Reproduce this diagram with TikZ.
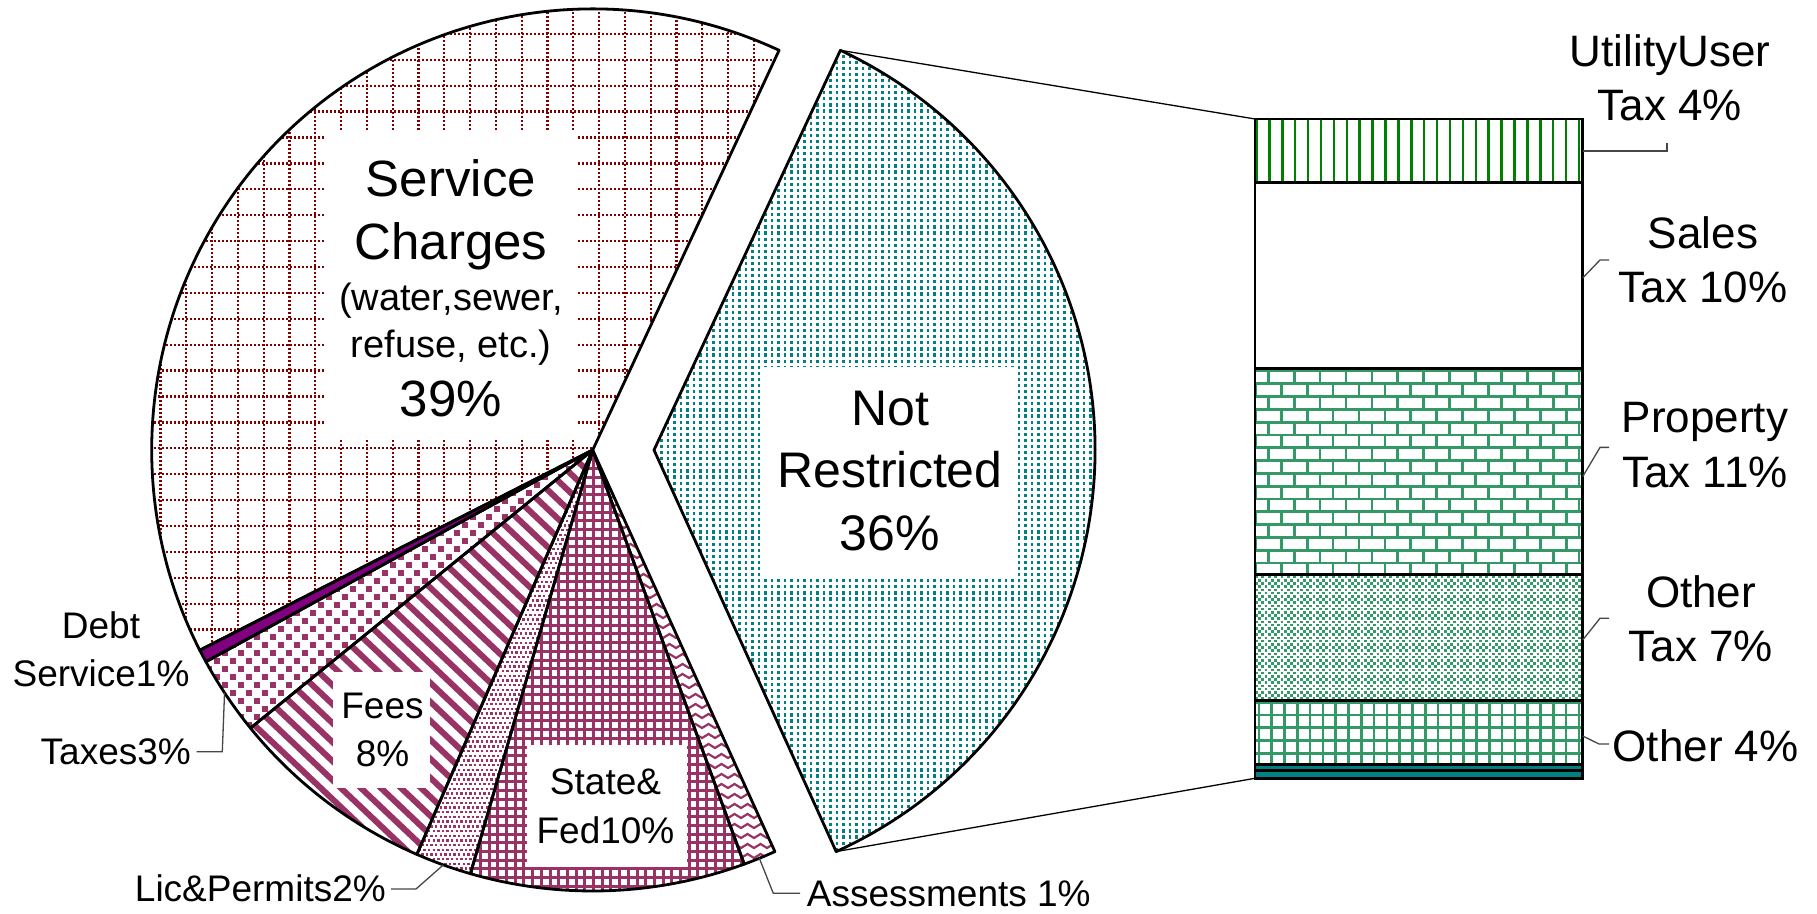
\documentclass[tikz,border=0pt]{standalone}
\usepackage{fontspec}
\setmainfont{Liberation Sans}
\usetikzlibrary{calc}
\definecolor{scred}{RGB}{128,0,0}
\definecolor{plum}{RGB}{153,51,102}
\definecolor{debtp}{RGB}{128,0,128}
\definecolor{tealc}{RGB}{0,128,128}
\definecolor{grn}{RGB}{0,128,0}
\definecolor{sea}{RGB}{51,153,102}
\definecolor{leadc}{RGB}{70,70,70}
\begin{document}
\begin{tikzpicture}[x=1pt,y=1pt,
  pieline/.style={draw=black,line width=2.8pt,line join=round},
  barline/.style={draw=black,line width=2.5pt},
  lead/.style={draw=leadc,line width=1.3pt},
  conn/.style={draw=black,line width=1.3pt},
  bigtxt/.style={font=\fontsize{51}{61}\selectfont,inner sep=0pt,anchor=base},
  nrtxt/.style={font=\fontsize{50}{60}\selectfont,inner sep=0pt,anchor=base},
  midtxt/.style={font=\fontsize{38}{46}\selectfont,inner sep=0pt,anchor=base},
  smtxt/.style={font=\fontsize{37}{44}\selectfont,inner sep=0pt,anchor=base},
  rtxt/.style={font=\fontsize{44}{53}\selectfont,inner sep=0pt,anchor=base},
  scgrid/.style={draw=scred,line width=2.3pt,dash pattern=on 2.4pt off 1.6pt},
  nrdots/.style={draw=tealc,line width=2.6pt,dash pattern=on 3.2pt off 2.9pt},
  taxsq/.style={draw=plum,line width=5.5pt,dash pattern=on 5.5pt off 10.5pt},
  fstripe/.style={draw=plum,line width=6pt},
  licdot/.style={draw=plum,line width=2.4pt,dash pattern=on 2.4pt off 2.2pt},
  sgrid/.style={draw=plum,line width=3pt},
  azig/.style={draw=plum,line width=2.2pt},
  uline/.style={draw=grn,line width=2.5pt},
  brick/.style={draw=sea,line width=2.7pt},
  chk/.style={draw=sea,line width=2.7pt,dash pattern=on 2.7pt off 3.7pt},
  ogrid/.style={draw=sea,line width=2.7pt}
]
\useasboundingbox (0,0) rectangle (1817,913);
\fill[white] (0,0) rectangle (1817,913);
\def\R{441}
\coordinate (C) at (592.7,463);
\coordinate (A) at (654,463);

% ---------- patterns ----------
% Service Charges
\begin{scope}
\clip (C) -- ++(65:\R) arc[start angle=65,end angle=207,radius=\R] -- cycle;
\foreach \i in {-17,...,8} \draw[scgrid] ({573.3+25.8*\i},255) -- ++(0,655);
\foreach \j in {-9,...,17} \draw[scgrid] (130,{464.7+25.9*\j}) -- ++(660,0);
\end{scope}
% Not Restricted
\begin{scope}
\clip (A) -- ++(-65.6:\R) arc[start angle=-65.6,end angle=65,radius=\R] -- cycle;
\foreach \i in {0,...,68} \draw[nrdots] ({655+6.5*\i},50) -- ++(0,820);
\end{scope}
% Debt Service
\fill[debtp] (C) -- ++(207:\R) arc[start angle=207,end angle=208.7,radius=\R] -- cycle;
% Taxes
\begin{scope}
\clip (C) -- ++(208.7:\R) arc[start angle=208.7,end angle=219.1,radius=\R] -- cycle;
\foreach \j [evaluate=\j as \xs using {190+mod(\j,2)*8}] in {0,...,36}
  \draw[taxsq] (\xs,{180+8*\j}) -- ++(410,0);
\end{scope}
% Fees
\begin{scope}
\clip (C) -- ++(219.1:\R) arc[start angle=219.1,end angle=246.5,radius=\R] -- cycle;
\foreach \c in {0,...,45} \draw[fstripe] (230,{40+19*\c}) -- ++(380,-360);
\end{scope}
% Lic & Permits
\begin{scope}
\clip (C) -- ++(246.5:\R) arc[start angle=246.5,end angle=253.9,radius=\R] -- cycle;
\foreach \j [evaluate=\j as \xs using {405+mod(\j,2)*2.3}] in {0,...,92}
  \draw[licdot] (\xs,{35+4.7*\j}) -- ++(195,0);
\end{scope}
% State & Fed
\begin{scope}
\clip (C) -- ++(253.9:\R) arc[start angle=253.9,end angle=290.1,radius=\R] -- cycle;
\foreach \i in {0,...,33} \draw[sgrid] ({463+8.7*\i},15) -- ++(0,455);
\foreach \j in {0,...,52} \draw[sgrid] (460,{18+8.7*\j}) -- ++(295,0);
\end{scope}
% Assessments
\begin{scope}
\clip (C) -- ++(290.1:\R) arc[start angle=290.1,end angle=294.4,radius=\R] -- cycle;
\foreach \j in {0,...,42}
  \draw[azig] (585,{45+10*\j}) \foreach \k in {1,...,15} { -- ++(6.5,4) -- ++(6.5,-4) };
\end{scope}

% ---------- bar ----------
\coordinate (bTL) at (1255,794);
\coordinate (bBL) at (1255,134.7);
\begin{scope}
\clip (1255,730.5) rectangle (1582.7,794);
\foreach \i in {0,...,25} \draw[uline] ({1256.5+12.9*\i},728) -- ++(0,70);
\end{scope}
\begin{scope}
\clip (1255,338.7) rectangle (1582.7,544.5);
\foreach \j in {-1,...,16} \draw[brick] (1255,{542-12.8*\j}) -- ++(328,0);
\foreach \j [evaluate=\j as \xo using {1268.3+mod(\j,2)*12.95}] in {-1,...,16} {
  \foreach \k in {-2,...,13} \draw[brick] ({\xo+25.9*\k},{542-12.8*\j}) -- ++(0,-12.8);
}
\end{scope}
\begin{scope}
\clip (1255,212.7) rectangle (1582.7,338.7);
\foreach \j [evaluate=\j as \xs using {1255+mod(\j,2)*3.2}] in {0,...,40}
  \draw[chk] (\xs,{214.3+3.2*\j}) -- ++(330,0);
\end{scope}
\begin{scope}
\clip (1255,148.7) rectangle (1582.7,212.7);
\foreach \k in {-2,...,26} \draw[ogrid] ({1271.7+12.8*\k},146) -- ++(0,70);
\foreach \j in {-1,...,5} \draw[ogrid] (1255,{198-12.8*\j}) -- ++(328,0);
\end{scope}
\fill[tealc] (1255,134.7) rectangle (1582.7,148.7);
\draw[barline] (1255,730.5) rectangle (1582.7,794);
\draw[barline] (1255,544.5) rectangle (1582.7,730.5);
\draw[barline] (1255,338.7) rectangle (1582.7,544.5);
\draw[barline] (1255,212.7) rectangle (1582.7,338.7);
\draw[barline] (1255,148.7) rectangle (1582.7,212.7);
\draw[barline] (1255,142.3) rectangle (1582.7,148.7);
\draw[barline] (1255,134.7) rectangle (1582.7,142.3);

% ---------- white label boxes ----------
\fill[white] (326,473) rectangle (578,783);
\fill[white] (764,334) rectangle (1016,546);
\fill[white] (333,125) rectangle (430,241);
\fill[white] (526.7,46.3) rectangle (686.7,168);

% ---------- slice outlines ----------
\draw[pieline] (C) -- ++(65:\R) arc[start angle=65,end angle=207,radius=\R] -- cycle;
\draw[pieline] (C) -- ++(207:\R) arc[start angle=207,end angle=208.7,radius=\R] -- cycle;
\draw[pieline] (C) -- ++(208.7:\R) arc[start angle=208.7,end angle=219.1,radius=\R] -- cycle;
\draw[pieline] (C) -- ++(219.1:\R) arc[start angle=219.1,end angle=246.5,radius=\R] -- cycle;
\draw[pieline] (C) -- ++(246.5:\R) arc[start angle=246.5,end angle=253.9,radius=\R] -- cycle;
\draw[pieline] (C) -- ++(253.9:\R) arc[start angle=253.9,end angle=290.1,radius=\R] -- cycle;
\draw[pieline] (C) -- ++(290.1:\R) arc[start angle=290.1,end angle=294.4,radius=\R] -- cycle;
\draw[pieline] (A) -- ++(-65.6:\R) arc[start angle=-65.6,end angle=65,radius=\R] -- cycle;

% ---------- connectors NR -> bar ----------
\coordinate (nrtop) at ($(A)+(65:\R)$);
\coordinate (nrbot) at ($(A)+(-65.6:\R)$);
\draw[conn] (nrtop) -- (bTL);
\draw[conn] (nrbot) -- (bBL);

% ---------- texts ----------
\node[bigtxt] (sc1) at (451,716) {Service};
\node[bigtxt] (sc2) at (451,653) {Charges};
\node[midtxt] (sc3) at (451,602) {(water,sewer,};
\node[midtxt] (sc4) at (451,555) {refuse, etc.)};
\node[bigtxt] (sc5) at (451,496) {39\%};

\node[nrtxt] (nr1) at (890,487) {Not};
\node[nrtxt] (nr2) at (890,425) {Restricted};
\node[nrtxt] (nr3) at (890,362) {36\%};

\node[smtxt] (fe1) at (382.5,194.7) {Fees};
\node[smtxt] (fe2) at (382.5,146.3) {8\%};

\node[smtxt] (st1) at (605.5,118) {State\&};
\node[smtxt] (st2) at (605.5,69.7) {Fed10\%};

\node[smtxt] (db1) at (101,274) {Debt};
\node[smtxt] (db2) at (101,226) {Service1\%};
\node[smtxt,anchor=base east] (tx) at (191,148.3) {Taxes3\%};
\node[smtxt,anchor=base east] (lic) at (386,11.5) {Lic\&Permits2\%};
\node[smtxt,anchor=base west] (as) at (806.7,6.3) {Assessments 1\%};

\node[rtxt] (ut1) at (1670,846) {UtilityUser};
\node[rtxt] (ut2) at (1670,792) {Tax 4\%};
\node[rtxt] (sa1) at (1703,664.5) {Sales};
\node[rtxt] (sa2) at (1703,610) {Tax 10\%};
\node[rtxt] (pr1) at (1705,480) {Property};
\node[rtxt] (pr2) at (1705,425) {Tax 11\%};
\node[rtxt] (ot1) at (1701,305) {Other};
\node[rtxt] (ot2) at (1701,251) {Tax 7\%};
\node[rtxt] (o4) at (1705.6,151.6) {Other 4\%};

% ---------- leaders ----------
\coordinate (txA) at ($(C)+(213.4:\R)$);
\coordinate (txB) at (222.3,161.3);
\coordinate (txC) at (196.7,161.3);
\draw[lead] (txA) -- (txB) -- (txC);
\coordinate (liA) at ($(C)+(250.2:\R)$);
\coordinate (liB) at (416,24);
\coordinate (liC) at (391,24);
\draw[lead] (liA) -- (liB) -- (liC);
\coordinate (asA) at ($(C)+(292.2:\R)$);
\coordinate (asB) at (773.3,19.7);
\coordinate (asC) at (800,19.7);
\draw[lead] (asA) -- (asB) -- (asC);

\coordinate (utA) at (1582.7,762);
\coordinate (utB) at (1667,762);
\coordinate (utC) at (1667,770);
\draw[lead] (utA) -- (utB) -- (utC);
\coordinate (saA) at (1582.7,635);
\coordinate (saB) at (1600,653);
\coordinate (saC) at (1609,653);
\draw[lead] (saA) -- (saB) -- (saC);
\coordinate (prA) at (1582.7,436.4);
\coordinate (prB) at (1600,465.6);
\coordinate (prC) at (1609,465.6);
\draw[lead] (prA) -- (prB) -- (prC);
\coordinate (otA) at (1582.7,273);
\coordinate (otB) at (1600,294.7);
\coordinate (otC) at (1609,294.7);
\draw[lead] (otA) -- (otB) -- (otC);
\coordinate (o4A) at (1582.7,177);
\coordinate (o4B) at (1599,169);
\coordinate (o4C) at (1609,169);
\draw[lead] (o4A) -- (o4B) -- (o4C);
\end{tikzpicture}
\end{document}
